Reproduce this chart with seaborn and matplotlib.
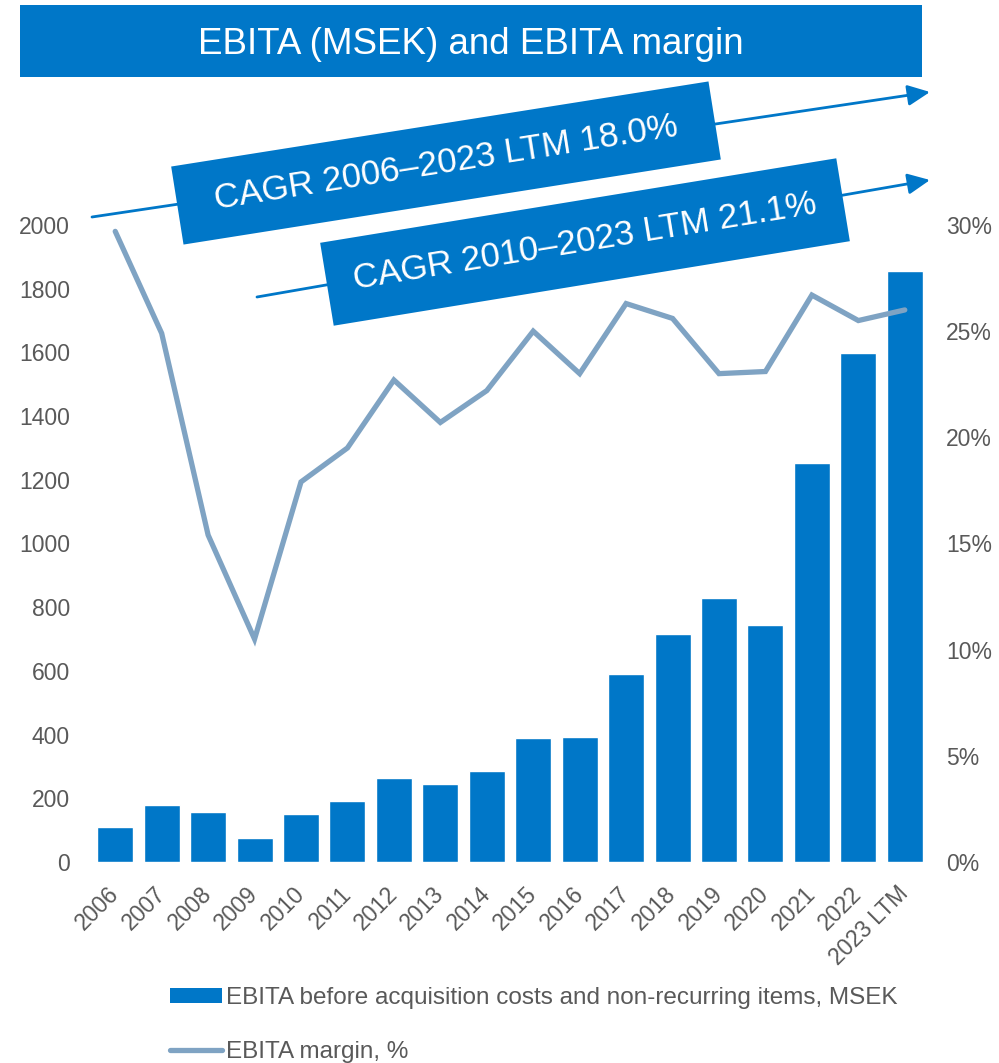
import numpy as np
import pandas as pd
import matplotlib
matplotlib.use("Agg")
import matplotlib.pyplot as plt
import seaborn as sns
from matplotlib.patches import Rectangle, Patch, FancyArrowPatch
from matplotlib.lines import Line2D
from matplotlib.transforms import Affine2D, IdentityTransform, ScaledTranslation
from matplotlib.ticker import FuncFormatter

years = ['2006', '2007', '2008', '2009', '2010', '2011', '2012', '2013', '2014',
         '2015', '2016', '2017', '2018', '2019', '2020', '2021', '2022', '2023 LTM']
ebita = [110, 180, 156, 75, 151, 192, 263, 244, 286,
         389, 392, 591, 717, 828, 744, 1254, 1599, 1857]
margin = [29.7, 24.9, 15.4, 10.5, 17.9, 19.5, 22.7, 20.7, 22.2,
          25.0, 23.0, 26.3, 25.6, 23.0, 23.1, 26.7, 25.5, 26.0]

title = 'EBITA (MSEK) and EBITA margin'
cagr_labels = ['CAGR 2006\u20132023 LTM 18.0%', 'CAGR 2010\u20132023 LTM 21.1%']
bar_label = 'EBITA before acquisition costs and non-recurring items, MSEK'
line_label = 'EBITA margin, %'

BLUE = '#0077C8'
LINE = '#7FA3C3'
GREY = '#595959'
W, H = 999, 1063

sns.set_style('white')
plt.rcParams['font.family'] = ['Liberation Sans', 'DejaVu Sans']

df = pd.DataFrame({'year': years, 'ebita': ebita, 'margin': np.array(margin) / 100})
df['pos'] = np.arange(len(df))

fig = plt.figure(figsize=(W / 100, H / 100), dpi=100)
ax = fig.add_axes([92 / W, 1 - 862 / H, (928 - 92) / W, (862 - 225) / H])

sns.barplot(data=df, x='year', y='ebita', color=BLUE, saturation=1, width=0.775, ax=ax)
ax.set_ylim(0, 2000)
ax.set_xlim(-0.5, len(df) - 0.5)
ax.set_yticks(range(0, 2001, 200))
ax.set_xlabel('')
ax.set_ylabel('')
ax.tick_params(axis='y', length=0, pad=16, labelsize=16.5, labelcolor=GREY)
ax.tick_params(axis='x', length=0, pad=6, labelsize=16.5, labelcolor=GREY)
shift = ScaledTranslation(-0.08, -0.12, fig.dpi_scale_trans)
for lab in ax.get_xticklabels():
    lab.set_rotation(45)
    lab.set_ha('right')
    lab.set_rotation_mode('anchor')
    lab.set_transform(lab.get_transform() + shift)

ax2 = ax.twinx()
sns.lineplot(data=df, x='pos', y='margin', color=LINE, lw=3.8, ax=ax2,
             solid_capstyle='round', solid_joinstyle='miter')
ax2.set_ylim(0, 0.30)
ax2.set_yticks(np.arange(0, 0.31, 0.05))
ax2.yaxis.set_major_formatter(FuncFormatter(lambda v, p: f'{v * 100:.0f}%'))
ax2.set_ylabel('')
ax2.tick_params(axis='y', length=0, pad=13, labelsize=16.5, labelcolor=GREY)
for a in (ax, ax2):
    for s in a.spines.values():
        s.set_visible(False)

# title banner
fig.add_artist(Rectangle((20 / W, 1 - 77 / H), 902 / W, 72 / H, transform=fig.transFigure,
                         fc=BLUE, ec='none', zorder=2))
fig.text(471 / W, 1 - 45 / H, title, color='white', fontsize=26.5, ha='center', va='center', zorder=3)

# CAGR arrows with rotated labels
arrows = [((92, 217), (930, 92)), ((257, 297), (930, 180))]
boxes = [(446, 163, 544, 79, 9.0), (585, 242, 523, 84, 9.3)]
for (p0, p1), (cx, cy, bw, bh, ang), lab in zip(arrows, boxes, cagr_labels):
    fig.add_artist(FancyArrowPatch((p0[0], H - p0[1]), (p1[0], H - p1[1]),
                                   transform=IdentityTransform(),
                                   arrowstyle='-|>,head_length=0.75,head_width=0.35',
                                   mutation_scale=18, lw=2, color=BLUE,
                                   shrinkA=0, shrinkB=0, zorder=1))
    fig.add_artist(Rectangle((cx - bw / 2, H - cy - bh / 2), bw, bh,
                             transform=Affine2D().rotate_deg_around(cx, H - cy, ang),
                             fc=BLUE, ec='none', zorder=2))
    fig.text(cx / W, 1 - cy / H, lab, color='white', fontsize=25, rotation=ang,
             rotation_mode='anchor', ha='center', va='center', zorder=3)

handles = [Patch(facecolor=BLUE, edgecolor='none'),
           Line2D([0], [0], color=LINE, lw=3.8, solid_capstyle='round')]
leg = fig.legend(handles, [bar_label, line_label], loc='upper left',
                 bbox_to_anchor=(170 / W, 1 - 987 / H), frameon=False, fontsize=17.5,
                 handlelength=2.15, handleheight=0.55, handletextpad=0.17,
                 labelspacing=1.32, borderpad=0, borderaxespad=0)
for t in leg.get_texts():
    t.set_color(GREY)

fig.savefig('out.png', dpi=100)
